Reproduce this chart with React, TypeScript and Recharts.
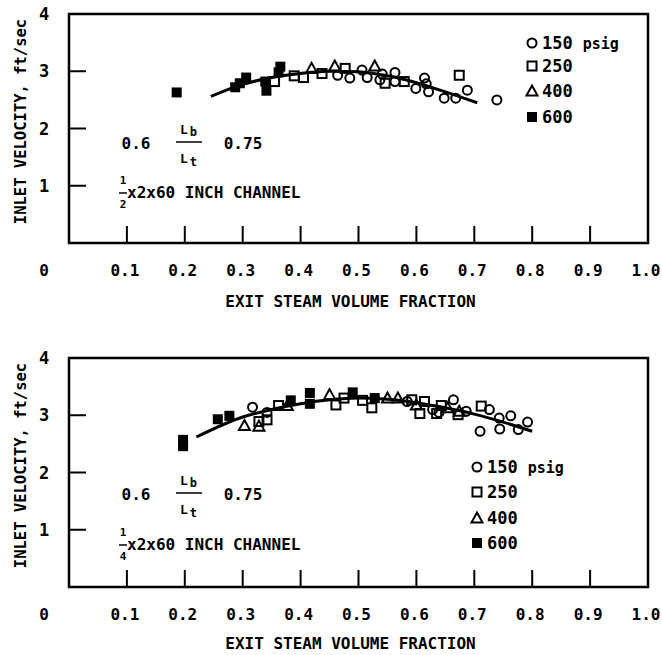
import { ComposedChart, Scatter, Line, XAxis, YAxis } from "recharts";

const FONT = '"DejaVu Sans Mono", monospace';

const xTicks = [0, 0.1, 0.2, 0.3, 0.4, 0.5, 0.6, 0.7, 0.8, 0.9, 1.0];
const yTicks = [0, 1, 2, 3, 4];
const legendLabels = ["150", "250", "400", "600"];

// 1/2 x 2 x 60 inch channel
const top150 = [
  [0.464, 2.93], [0.485, 2.88], [0.506, 3.02], [0.515, 2.89], [0.537, 2.85],
  [0.541, 2.95], [0.563, 2.98], [0.563, 2.82], [0.599, 2.7], [0.614, 2.88],
  [0.617, 2.78], [0.621, 2.64], [0.648, 2.53], [0.668, 2.53], [0.688, 2.67],
  [0.739, 2.5],
];
const top250 = [
  [0.355, 2.82], [0.389, 2.92], [0.405, 2.89], [0.437, 2.96], [0.477, 3.05],
  [0.546, 2.79], [0.579, 2.82], [0.674, 2.93],
];
const top400 = [[0.419, 3.05], [0.459, 3.09], [0.528, 3.09]];
const top600 = [
  [0.186, 2.63], [0.287, 2.72], [0.295, 2.79], [0.306, 2.89], [0.339, 2.82],
  [0.341, 2.66], [0.362, 2.98], [0.365, 3.08],
];
const topCurveX = [0.245, 0.3, 0.35, 0.4, 0.45, 0.5, 0.55, 0.6, 0.65, 0.705];
const topCurveY = [2.56, 2.77, 2.89, 2.96, 3.0, 2.99, 2.92, 2.8, 2.64, 2.45];

// 1/4 x 2 x 60 inch channel
const bot150 = [
  [0.317, 3.14], [0.342, 3.05], [0.584, 3.24], [0.628, 3.1], [0.639, 3.05],
  [0.664, 3.27], [0.686, 3.07], [0.71, 2.72], [0.726, 3.1], [0.743, 2.95],
  [0.744, 2.76], [0.763, 2.99], [0.776, 2.75], [0.792, 2.88],
];
const bot250 = [
  [0.328, 2.89], [0.342, 2.92], [0.362, 3.17], [0.461, 3.18], [0.475, 3.3],
  [0.507, 3.26], [0.523, 3.13], [0.592, 3.27], [0.606, 3.03], [0.614, 3.24],
  [0.635, 3.03], [0.643, 3.17], [0.672, 3.01], [0.712, 3.16],
];
const bot400 = [
  [0.303, 2.82], [0.328, 2.81], [0.377, 3.17], [0.45, 3.36], [0.55, 3.3],
  [0.568, 3.3], [0.6, 3.18], [0.654, 3.13], [0.674, 3.07],
];
const bot600 = [
  [0.197, 2.57], [0.197, 2.46], [0.257, 2.93], [0.277, 2.99], [0.383, 3.26],
  [0.416, 3.39], [0.416, 3.2], [0.49, 3.4], [0.528, 3.3],
];
const botCurveX = [0.22, 0.3, 0.35, 0.4, 0.45, 0.5, 0.55, 0.6, 0.65, 0.7, 0.75, 0.8];
const botCurveY = [2.62, 2.97, 3.1, 3.2, 3.27, 3.3, 3.28, 3.22, 3.13, 3.02, 2.88, 2.72];

const toPts = (arr: number[][]) => arr.map(([x, y]) => ({ x, y }));
const toCurve = (xs: number[], ys: number[]) => xs.map((x, i) => ({ x, y: ys[i] }));

// panel layout
const W = 662;
const H = 320;
const M_TOP = 14;
const M_RIGHT = 14;
const M_BOTTOM = 11;
const Y_W = 69;
const X_H = 66;
const PL = Y_W;
const PR = W - M_RIGHT;
const PT = M_TOP;
const PB = H - M_BOTTOM - X_H;
const TICK_LEN = 17;

type Kind = "circle" | "square" | "triangle" | "filled";
const kinds: Kind[] = ["circle", "square", "triangle", "filled"];

function Marker({ cx, cy, kind }: { cx: number; cy: number; kind: Kind }) {
  if (cx == null || cy == null) return null;
  if (kind === "circle")
    return <circle cx={cx} cy={cy} r={4.5} fill="none" stroke="#000" strokeWidth={2} />;
  if (kind === "square")
    return <rect x={cx - 4.5} y={cy - 4.5} width={9} height={9} fill="none" stroke="#000" strokeWidth={2} />;
  if (kind === "triangle")
    return (
      <polygon
        points={`${cx},${cy - 5.5} ${cx + 5.5},${cy + 4.5} ${cx - 5.5},${cy + 4.5}`}
        fill="none"
        stroke="#000"
        strokeWidth={2}
      />
    );
  return <rect x={cx - 5} y={cy - 5} width={10} height={10} fill="#000" />;
}

const XTick = (props: any) => {
  const { x, y, payload } = props;
  const v = Number(payload.value);
  const label = v === 0 ? "0" : v.toFixed(1);
  return (
    <text
      x={v === 0 ? Number(x) - 25 : Number(x) - 2}
      y={Number(y) + 28}
      textAnchor="middle"
      dominantBaseline="middle"
      fontFamily={FONT}
      fontWeight="bold"
      fontSize={16}
      fill="#000"
    >
      {label}
    </text>
  );
};

const YTick = (props: any) => {
  const { x, y, payload } = props;
  const v = Number(payload.value);
  if (v === 0) return <g />;
  return (
    <text
      x={Number(x) - 25}
      y={Number(y) + 1}
      textAnchor="middle"
      dominantBaseline="middle"
      fontFamily={FONT}
      fontWeight="bold"
      fontSize={17}
      fill="#000"
    >
      {v}
    </text>
  );
};

const frameLine = { stroke: "#000", strokeWidth: 2 };

type PanelProps = {
  top: number;
  series: number[][][];
  curve: { x: number; y: number }[];
  legendX: number;
  legendY: number[];
  fracY: number;
  channelY: number;
  channelDenom: string;
  titleDy: number;
};

function Panel({ top, series, curve, legendX, legendY, fracY, channelY, channelDenom, titleDy }: PanelProps) {
  const txt = { fontFamily: FONT, fontWeight: "bold" as const, fill: "#000" };
  const px = (v: number) => PL + (PR - PL) * v;
  const py = (v: number) => PB - ((PB - PT) * v) / 4;
  return (
    <div style={{ position: "absolute", left: 0, top, width: W, height: H }}>
      <ComposedChart width={W} height={H} margin={{ top: M_TOP, right: M_RIGHT, left: 0, bottom: M_BOTTOM }}>
        <XAxis
          dataKey="x"
          type="number"
          domain={[0, 1]}
          ticks={xTicks}
          interval={0}
          axisLine={frameLine}
          tickLine={false}
          tickSize={0}
          tickMargin={0}
          tick={XTick}
          height={X_H}
          allowDataOverflow
          label={(p: any) => {
            const vb = p.viewBox || {};
            return (
              <text
                x={vb.x + vb.width / 2 - 8}
                y={vb.y + titleDy}
                textAnchor="middle"
                dominantBaseline="middle"
                fontSize={16}
                {...txt}
              >
                EXIT STEAM VOLUME FRACTION
              </text>
            );
          }}
        />
        <YAxis
          dataKey="y"
          type="number"
          domain={[0, 4]}
          ticks={yTicks}
          interval={0}
          axisLine={frameLine}
          tickLine={false}
          tickSize={0}
          tickMargin={0}
          tick={YTick}
          width={Y_W}
          allowDataOverflow
          label={(p: any) => {
            const vb = p.viewBox || {};
            const cx = 21;
            const cy = vb.y + vb.height / 2 - 7;
            return (
              <text
                x={cx}
                y={cy}
                transform={`rotate(-90 ${cx} ${cy})`}
                textAnchor="middle"
                dominantBaseline="middle"
                fontSize={15.5}
                {...txt}
              >
                INLET VELOCITY, ft/sec
              </text>
            );
          }}
        />
        <Line
          data={curve}
          dataKey="y"
          type="monotone"
          stroke="#000"
          strokeWidth={3}
          dot={false}
          isAnimationActive={false}
        />
        {series.map((s, i) => (
          <Scatter
            key={i}
            data={toPts(s)}
            dataKey="y"
            isAnimationActive={false}
            shape={(p: any) => <Marker cx={p.cx} cy={p.cy} kind={kinds[i]} />}
          />
        ))}
      </ComposedChart>
      <svg width={W} height={H} style={{ position: "absolute", left: 0, top: 0, pointerEvents: "none" }}>
        {/* frame and inward tick marks */}
        <rect x={PL} y={PT} width={PR - PL} height={PB - PT} fill="none" stroke="#000" strokeWidth={2.5} />
        {xTicks
          .filter((v) => v > 0 && v < 1)
          .map((v) => (
            <line key={"x" + v} x1={px(v)} x2={px(v)} y1={PB} y2={PB - TICK_LEN} stroke="#000" strokeWidth={2} />
          ))}
        {yTicks
          .filter((v) => v > 0 && v < 4)
          .map((v) => (
            <line key={"y" + v} x1={PL} x2={PL + TICK_LEN} y1={py(v)} y2={py(v)} stroke="#000" strokeWidth={2} />
          ))}
        {legendLabels.map((lab, i) => (
          <g key={lab}>
            <Marker cx={legendX} cy={legendY[i]} kind={kinds[i]} />
            <text x={legendX + 10} y={legendY[i] + 1} dominantBaseline="middle" fontSize={17} {...txt}>
              {lab}
              {i === 0 && (
                <tspan dx={10} fontSize={15}>
                  psig
                </tspan>
              )}
            </text>
          </g>
        ))}
        <text x={136} y={fracY + 2} textAnchor="middle" dominantBaseline="middle" fontSize={16} {...txt}>
          0.6
        </text>
        <text x={180} y={fracY - 12} dominantBaseline="middle" fontSize={13} {...txt}>
          L<tspan dx={2} dy={2} fontSize={12}>b</tspan>
        </text>
        <line x1={176} x2={202} y1={fracY} y2={fracY} stroke="#000" strokeWidth={1.5} />
        <text x={180} y={fracY + 17} dominantBaseline="middle" fontSize={13} {...txt}>
          L<tspan dx={2} dy={3} fontSize={12}>t</tspan>
        </text>
        <text x={243} y={fracY + 2} textAnchor="middle" dominantBaseline="middle" fontSize={16} {...txt}>
          0.75
        </text>
        <text x={123} y={channelY - 12} textAnchor="middle" dominantBaseline="middle" fontSize={11} {...txt}>
          1
        </text>
        <line x1={119} x2={127} y1={channelY} y2={channelY} stroke="#000" strokeWidth={1.5} />
        <text x={123} y={channelY + 12} textAnchor="middle" dominantBaseline="middle" fontSize={11} {...txt}>
          {channelDenom}
        </text>
        <text x={127} y={channelY} dominantBaseline="middle" fontSize={16} {...txt}>
          x2x60 INCH CHANNEL
        </text>
      </svg>
    </div>
  );
}

export default function App() {
  return (
    <div style={{ position: "absolute", left: 0, top: 0, width: W, height: 655, background: "#fff", overflow: "hidden" }}>
      <Panel
        top={0}
        series={[top150, top250, top400, top600]}
        curve={toCurve(topCurveX, topCurveY)}
        legendX={532}
        legendY={[43, 66, 91, 117]}
        fracY={142}
        channelY={193}
        channelDenom="2"
        titleDy={59}
      />
      <Panel
        top={344}
        series={[bot150, bot250, bot400, bot600]}
        curve={toCurve(botCurveX, botCurveY)}
        legendX={477}
        legendY={[123, 148, 174, 199]}
        fracY={149}
        channelY={201}
        channelDenom="4"
        titleDy={57}
      />
    </div>
  );
}
